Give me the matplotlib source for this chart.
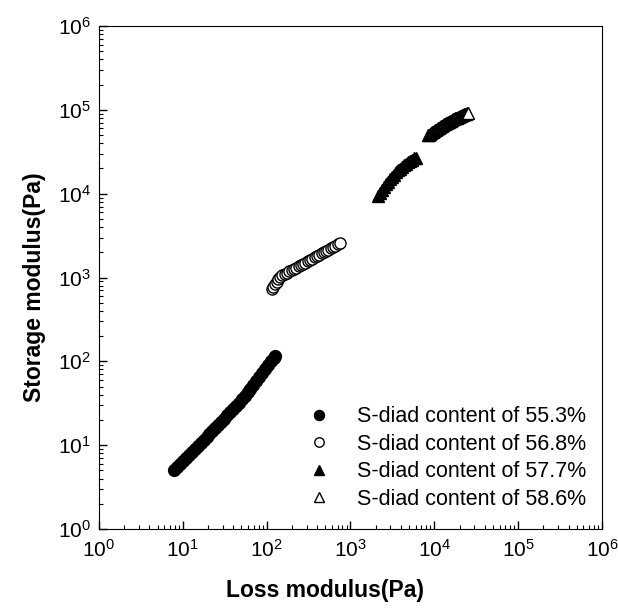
import matplotlib
matplotlib.use('Agg')
import matplotlib.pyplot as plt

plt.rcParams['font.family'] = ['Liberation Sans', 'DejaVu Sans']
plt.rcParams['mathtext.fontset'] = 'custom'
plt.rcParams['mathtext.rm'] = 'Liberation Sans'

# S-diad content of 55.3% (filled circles)
loss_553 = [7.9, 8.6, 9.3, 10.0, 10.9, 11.8, 12.8, 13.9, 15.1, 16.3, 17.7, 19.2,
            20.8, 22.5, 24.4, 26.4, 28.6, 31.0, 33.6, 36.4, 39.5, 42.8, 46.4, 50.3,
            54.5, 59.1, 64.0, 69.4, 75.2, 81.5, 88.3, 95.7, 103.7, 112.4, 121.8, 126.0]
stor_553 = [5.06, 5.5, 5.97, 6.44, 7.03, 7.64, 8.3, 9.04, 9.85, 10.6, 11.6, 12.6,
            13.7, 14.8, 16.1, 17.6, 19.1, 20.8, 22.7, 24.8, 27.1, 29.5, 32.2, 35.3,
            38.8, 42.9, 47.3, 52.4, 58.1, 64.6, 72.0, 80.2, 89.3, 99.8, 111.0, 116.0]

# S-diad content of 56.8% (open circles)
loss_568 = [116, 120.2, 125.3, 131.2, 138, 145.2, 154.2, 164, 174.6, 186.2, 198.2,
            211.3, 224.9, 239.9, 255.3, 272.3, 289.7, 309, 328.9, 350.8, 373.3, 398.1,
            423.6, 451.9, 480.8, 512.9, 545.8, 582.1, 619.4, 660.7, 704.7, 751.6]
stor_568 = [731, 780, 836, 895, 959, 1019, 1059, 1099, 1138, 1180, 1222, 1268, 1312,
            1361, 1409, 1459, 1510, 1567, 1622, 1683, 1742, 1803, 1866, 1936, 2004,
            2075, 2148, 2228, 2307, 2388, 2477, 2564]

# S-diad content of 57.7% (filled triangles)
loss_577 = [2133, 2254, 2382, 2518, 2661, 2812, 2972, 3141, 3319, 3508, 3707, 3917,
            4140, 4375, 4624, 4887, 5164, 5458, 5768, 6095]
stor_577 = [9419, 10233, 11092, 12016, 12935, 13895, 14870, 15870, 16880, 17900,
            18920, 19940, 20940, 21920, 22880, 23800, 24680, 25510, 26290, 27000]

# S-diad content of 58.6% (open triangles)
loss_586 = [8433, 8669, 8912, 9162, 9419, 9683, 9954, 10233, 10520, 10815, 11118,
            11429, 11749, 12078, 12416, 12764, 13122, 13489, 13867, 14255, 14655,
            15065, 15487, 15921, 16367, 16825, 17296, 17781, 18279, 18790, 19317,
            19858, 20414, 20985, 21573, 22177, 22798, 23436, 24093, 24767, 25293]
stor_586 = [49659, 50690, 51730, 52780, 53830, 54890, 55960, 57030, 58110, 59200,
            60290, 61380, 62470, 63570, 64670, 65780, 66880, 67990, 69090, 70190,
            71290, 72390, 73480, 74570, 75660, 76740, 77820, 78890, 79960, 81020,
            82070, 83110, 84150, 85170, 86180, 87190, 88180, 89160, 90130, 91080, 91790]

labels = ['S-diad content of 55.3%', 'S-diad content of 56.8%',
          'S-diad content of 57.7%', 'S-diad content of 58.6%']

fig = plt.figure(figsize=(6.18, 6.12), dpi=100)
ax = fig.add_axes([0.1602, 0.1356, 0.8139, 0.8219])

ax.plot(loss_553, stor_553, 'o', color='black', ms=8.5, label=labels[0])
ax.plot(loss_568, stor_568, 'o', mfc='white', mec='black', mew=1.0, ms=8, label=labels[1])
ax.plot(loss_577, stor_577, '^', color='black', ms=9, label=labels[2])
ax.plot(loss_586, stor_586, '^', mfc='white', mec='black', mew=1.0, ms=9, label=labels[3])

ax.set_xscale('log')
ax.set_yscale('log')
ax.set_xlim(1, 1e6)
ax.set_ylim(1, 1e6)

ax.tick_params(which='both', direction='in', top=False, right=False, labelsize=15)
ax.tick_params(which='major', length=6, width=1)
ax.tick_params(which='minor', length=3, width=0.8)
ax.tick_params(axis='x', pad=7)
ax.tick_params(axis='y', pad=6)

ax.set_xlabel('Loss modulus(Pa)', fontsize=16.5, fontweight='bold')
ax.set_ylabel('Storage modulus(Pa)', fontsize=16.5, fontweight='bold')
ax.xaxis.set_label_coords(0.45, -0.100)
ax.yaxis.set_label_coords(-0.105, 0.48)

leg = ax.legend(loc='lower right', bbox_to_anchor=(0.99, 0.017), frameon=False,
                fontsize=15.5, handlelength=1.0, handletextpad=1.25, labelspacing=0.30,
                numpoints=1, markerscale=0.85, borderpad=0)

plt.savefig('out.png', dpi=100)
